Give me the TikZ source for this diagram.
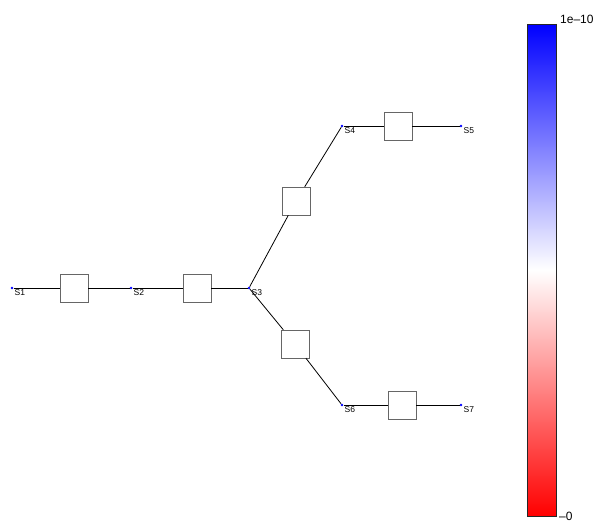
\documentclass[tikz,border=0pt]{standalone}
\usepackage{fontspec}
\setmainfont{Liberation Sans}
\usetikzlibrary{positioning}

\begin{document}
\begin{tikzpicture}[x=1pt,y=-1pt,
    station/.style={circle, fill=blue, inner sep=0pt, minimum size=2.6pt},
    stlabel/.style={font=\fontsize{8.5}{10}\selectfont, inner sep=0pt, anchor=north west},
    valve/.style={draw=black!60, fill=white, minimum size=28pt, inner sep=0pt},
    pipe/.style={thick, black}]
  % Fixed canvas
  \useasboundingbox (0,0) rectangle (602,523);

  % Stations
  \node[station] (s1) at (12,288) {};
  \node[station] (s2) at (131,288) {};
  \node[station] (s3) at (249,288) {};
  \node[station] (s4) at (342,126) {};
  \node[station] (s5) at (461,126) {};
  \node[station] (s6) at (342,405) {};
  \node[station] (s7) at (461,405) {};

  % Valves between stations
  \node[valve] (v12) at (74,288) {};
  \node[valve] (v23) at (197,288) {};
  \node[valve] (v34) at (296,201) {};
  \node[valve] (v45) at (398,126) {};
  \node[valve] (v36) at (295,344) {};
  \node[valve] (v67) at (402,405) {};

  % Pipes
  \draw[pipe] (s1) -- (v12) -- (s2);
  \draw[pipe] (s2) -- (v23) -- (s3);
  \draw[pipe] (s3) -- (v34) -- (s4);
  \draw[pipe] (s4) -- (v45) -- (s5);
  \draw[pipe] (s3) -- (v36) -- (s6);
  \draw[pipe] (s6) -- (v67) -- (s7);

  % Station labels
  \foreach \n/\t in {s1/S1, s2/S2, s3/S3, s4/S4, s5/S5, s6/S6, s7/S7}
    \node[stlabel] at ([xshift=2.5pt,yshift=-1pt]\n.center) {\t};

  % Colour bar
  \shade[top color=blue, bottom color=red, middle color=white] (527,24) rectangle (556,516);
  \draw[thick, black!85] (527,24) rectangle (556,516);
  \node[font=\fontsize{12}{14}\selectfont, anchor=west, inner sep=0pt] (cmax) at (560,19) {1e\textendash10};
  \node[font=\fontsize{12}{14}\selectfont, anchor=west, inner sep=0pt] (cmin) at (559,516) {\textendash0};
\end{tikzpicture}
\end{document}
